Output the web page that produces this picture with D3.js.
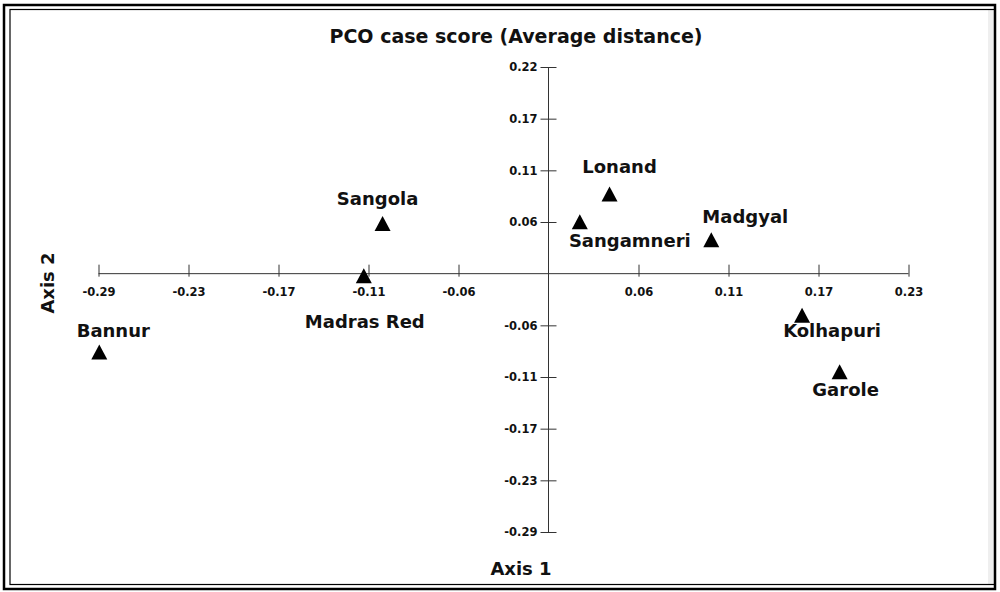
<!DOCTYPE html>
<html>
<head>
<meta charset="utf-8">
<script src="https://cdn.jsdelivr.net/npm/d3@7"></script>
<style>
  body { margin: 0; background: #fff; }
  svg { display: block; }
  text { font-family: "DejaVu Sans", sans-serif; font-weight: bold; fill: #111; }
</style>
</head>
<body>
<div id="chart"></div>
<script>
// breeds and their PCO scores
const breeds = ["Bannur", "Madras Red", "Sangola", "Sangamneri", "Lonand", "Madgyal", "Kolhapuri", "Garole"];
const axis1 = [-0.287, -0.118, -0.106, 0.020, 0.039, 0.104, 0.162, 0.186];
const axis2 = [-0.090, -0.005, 0.053, 0.055, 0.086, 0.035, -0.049, -0.112];

// tick labels (evenly spaced ticks)
const tickStep = 0.0575;
const xTickSteps = [-5, -4, -3, -2, -1, 1, 2, 3, 4];
const xTickLabels = ["-0.29", "-0.23", "-0.17", "-0.11", "-0.06", "0.06", "0.11", "0.17", "0.23"];
const yTickSteps = [4, 3, 2, 1, -1, -2, -3, -4, -5];
const yTickLabels = ["0.22", "0.17", "0.11", "0.06", "-0.06", "-0.11", "-0.17", "-0.23", "-0.29"];

// label offsets from each marker
const labelOffsets = [[14, -18], [1, 50], [-5, -21], [50, 23], [10, -23], [34, -19], [30, 19], [6, 22]];

const W = 1000, H = 592;
const svg = d3.select("#chart").append("svg")
  .attr("width", W)
  .attr("height", H);

// frame
svg.append("rect").attr("x", 0).attr("y", 0).attr("width", W).attr("height", H).attr("fill", "#fff");
svg.append("rect").attr("x", 988).attr("y", 10).attr("width", 6).attr("height", 575).attr("fill", "#efefef");
svg.append("rect").attr("x", 4).attr("y", 5).attr("width", 991).attr("height", 584)
  .attr("fill", "none").attr("stroke", "#000").attr("stroke-width", 2.5);
svg.append("rect").attr("x", 10).attr("y", 9.5).attr("width", 985).attr("height", 575)
  .attr("fill", "none").attr("stroke", "#000").attr("stroke-width", 1.2);

const x = d3.scaleLinear().domain([-5 * tickStep, 4 * tickStep]).range([98.5, 908.5]);
const y = d3.scaleLinear().domain([-5 * tickStep, 4 * tickStep]).range([532, 67]);

// x axis through origin
const xAxis = svg.append("g")
  .attr("transform", `translate(0,${y(0)})`)
  .call(d3.axisTop(x)
    .tickValues(xTickSteps.map(k => k * tickStep))
    .tickFormat((d, i) => xTickLabels[i])
    .tickSizeInner(9).tickSizeOuter(0));
xAxis.select(".domain").attr("stroke", "#333").attr("d", `M${x(-5 * tickStep)},0H${x(4 * tickStep)}`);
xAxis.selectAll(".tick line").attr("stroke", "#333").attr("y2", -9).attr("y1", 3);
xAxis.selectAll(".tick text")
  .attr("y", 22).attr("dy", null)
  .style("font-size", "11.5px").style("font-family", "DejaVu Sans").style("font-weight", "bold").attr("fill", "#111");

// y axis through origin
const yAxis = svg.append("g")
  .attr("transform", `translate(${x(0)},0)`)
  .call(d3.axisLeft(y)
    .tickValues(yTickSteps.map(k => k * tickStep))
    .tickFormat((d, i) => yTickLabels[i])
    .tickSizeInner(8).tickSizeOuter(0));
yAxis.select(".domain").attr("stroke", "#333").attr("d", `M0,${y(4 * tickStep)}V${y(-5 * tickStep)}`);
yAxis.selectAll(".tick line").attr("stroke", "#333").attr("x1", 8).attr("x2", -8);
yAxis.selectAll(".tick text")
  .attr("x", -11)
  .style("font-size", "11.5px").style("font-family", "DejaVu Sans").style("font-weight", "bold").attr("fill", "#111");

// markers
const tri = "M0,-10L8,5L-8,5Z";
svg.append("g").selectAll("path")
  .data(breeds)
  .enter().append("path")
  .attr("d", tri)
  .attr("fill", "#000")
  .attr("transform", (d, i) => `translate(${x(axis1[i])},${y(axis2[i])})`);

// point labels
svg.append("g").selectAll("text")
  .data(breeds)
  .enter().append("text")
  .attr("text-anchor", "middle")
  .attr("x", (d, i) => x(axis1[i]) + labelOffsets[i][0])
  .attr("y", (d, i) => y(axis2[i]) + labelOffsets[i][1])
  .style("font-size", "18px")
  .text(d => d);

// title and axis titles
svg.append("text")
  .attr("x", 516).attr("y", 43)
  .attr("text-anchor", "middle")
  .style("font-size", "19px")
  .text("PCO case score (Average distance)");

svg.append("text")
  .attr("x", 521).attr("y", 575)
  .attr("text-anchor", "middle")
  .style("font-size", "18px")
  .text("Axis 1");

svg.append("text")
  .attr("transform", "translate(54,283) rotate(-90)")
  .attr("text-anchor", "middle")
  .style("font-size", "18px")
  .text("Axis 2");
</script>
</body>
</html>
